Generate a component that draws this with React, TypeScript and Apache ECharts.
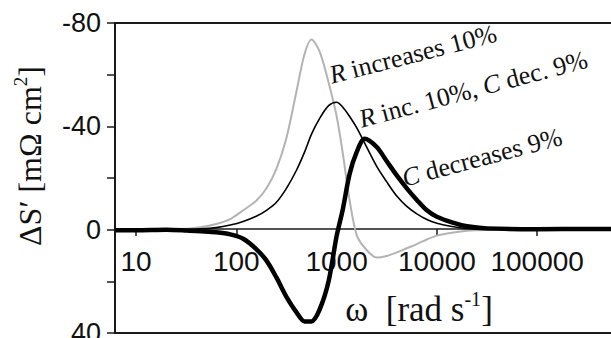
import React, { useEffect, useRef } from 'react';
import * as echarts from 'echarts';

// angular frequency ω [rad s^-1]
const omega = [6.2, 10, 20, 32, 44, 63, 87, 117, 158, 200, 251, 316, 398, 479, 562, 676, 832, 1000, 1148, 1349, 1585, 1905, 2512, 3162, 3981, 5012, 6310, 7943, 10000, 14125, 19953, 31623, 100000, 316228, 630000];
// ΔS′ [mΩ cm²]
const rIncreases = [0.3, 0, -0.2, -0.4, -0.9, -2.2, -4.1, -7.5, -11.2, -16, -23.5, -35.5, -53.5, -68, -73.6, -69, -57, -44, -30, -11.3, 2, 7, 10.8, 10.2, 8.8, 7.2, 5.6, 3.8, 2.3, 1.2, 0.4, 0.1, 0, 0, 0];
const rIncCDec = [0.3, 0, 0, -0.1, -0.3, -0.8, -1.8, -3.2, -5.2, -7.5, -10.6, -16, -23, -30, -37, -43, -48, -49.3, -47.5, -43.8, -39.5, -33.5, -24.5, -18.5, -13, -9, -6.1, -3.9, -2.5, -1.2, -0.4, -0.1, 0, 0.2, 0];
const cDecreases = [0.2, 0.2, 0, 0.3, 0.6, 1.0, 1.8, 3.5, 7.5, 12, 18.5, 26, 32, 35.5, 35.5, 31, 20, 2.5, -7.5, -21.6, -30, -35.2, -32, -26.5, -21, -16, -11.5, -7.5, -5, -2.8, -1.3, -0.5, -0.2, -0.3, -0.2];

const xTickValues = [10, 100, 1000, 10000, 100000];
const yLabelValues = [-80, -40, 0, 40];

const SERIF = '"Liberation Serif", "Times New Roman", serif';
const SANS = '"Liberation Sans", Arial, sans-serif';
const INK = '#1a1a1a';

export default function App() {
  const ref = useRef<HTMLDivElement>(null);
  useEffect(() => {
    if (!ref.current) return;
    const chart = echarts.init(ref.current, undefined, { renderer: 'svg' });
    const pairs = (arr: number[]) => omega.map((w, i) => [w, arr[i]]);
    const note = (text: string) => ({
      text, align: 'left', verticalAlign: 'bottom', fill: '#111',
      rich: {
        i: { fontFamily: SERIF, fontSize: 26, fontStyle: 'italic', fill: '#111' },
        a: { fontFamily: SERIF, fontSize: 26, fill: '#111' },
      },
    });
    chart.setOption({
      animation: false,
      backgroundColor: '#ffffff',
      grid: {
        left: 115, top: 23, right: -5, bottom: 5,
        containLabel: false, outerBoundsMode: 'none',
        show: true, borderColor: INK, borderWidth: 2, backgroundColor: 'transparent',
      },
      xAxis: {
        type: 'log', logBase: 10, min: 6.17, max: 611000,
        // the axis crosses the value axis at ΔS′ = 0 (40 units above the bottom of 120)
        offset: -104,
        axisLine: { onZero: false, lineStyle: { color: INK, width: 1.5 } },
        axisTick: { show: true, inside: false, length: 7, customValues: xTickValues, lineStyle: { color: INK, width: 1.5 } },
        axisLabel: {
          customValues: xTickValues,
          formatter: (v: number) => (xTickValues.includes(v) ? String(v) : ''),
          fontFamily: SANS, fontSize: 28, color: '#111', margin: 18,
        },
        splitLine: { show: false },
        minorTick: { show: false },
      },
      yAxis: {
        type: 'value', inverse: true, min: -80, max: 40, interval: 20,
        axisLine: { show: true, onZero: false, lineStyle: { color: INK, width: 1.5 } },
        axisTick: { show: true, inside: false, length: 8, lineStyle: { color: INK, width: 1.5 } },
        axisLabel: {
          formatter: (v: number) => (yLabelValues.includes(v) ? String(v) : ''),
          fontFamily: SANS, fontSize: 27, color: '#111', margin: 14,
        },
        splitLine: { show: false },
      },
      series: [
        {
          name: 'R increases 10%', type: 'line', data: pairs(rIncreases), showSymbol: false, smooth: 0.3,
          lineStyle: { color: '#b3b3b3', width: 2 }, z: 2,
        },
        {
          name: 'R inc. 10%, C dec. 9%', type: 'line', data: pairs(rIncCDec), showSymbol: false, smooth: 0.3,
          lineStyle: { color: '#000000', width: 1.6 }, z: 3,
        },
        {
          name: 'C decreases 9%', type: 'line', data: pairs(cDecreases), showSymbol: false, smooth: 0.3,
          lineStyle: { color: '#000000', width: 4.5 }, z: 4,
        },
      ],
      graphic: [
        {
          type: 'text', x: 30, y: 156, rotation: Math.PI / 2,
          style: {
            text: '{a|ΔS′ [mΩ cm}{b|2}{a|]}',
            align: 'center', verticalAlign: 'middle', fill: '#111',
            rich: {
              a: { fontFamily: SERIF, fontSize: 32, lineHeight: 38, fill: '#111' },
              b: { fontFamily: SERIF, fontSize: 19, lineHeight: 22, verticalAlign: 'top', fill: '#111' },
            },
          },
        },
        {
          type: 'text', x: 419, y: 309,
          style: {
            text: '{a|ω  [rad s}{b|-1}{a|]}',
            align: 'center', verticalAlign: 'middle', fill: '#111',
            rich: {
              a: { fontFamily: SERIF, fontSize: 35, lineHeight: 40, fill: '#111' },
              b: { fontFamily: SERIF, fontSize: 20, lineHeight: 24, verticalAlign: 'top', fill: '#111' },
            },
          },
        },
        { type: 'text', x: 333, y: 88, rotation: 0.25, style: note('{i|R}{a| increases 10%}') },
        { type: 'text', x: 363, y: 132, rotation: 0.26, style: note('{i|R}{a| inc. 10%, }{i|C}{a| dec. 9%}') },
        { type: 'text', x: 406, y: 191, rotation: 0.26, style: note('{i|C}{a| decreases 9%}') },
      ],
    });
    return () => chart.dispose();
  }, []);
  return <div ref={ref} style={{ width: 611, height: 338, position: 'absolute', left: 0, top: 0 }} />;
}
